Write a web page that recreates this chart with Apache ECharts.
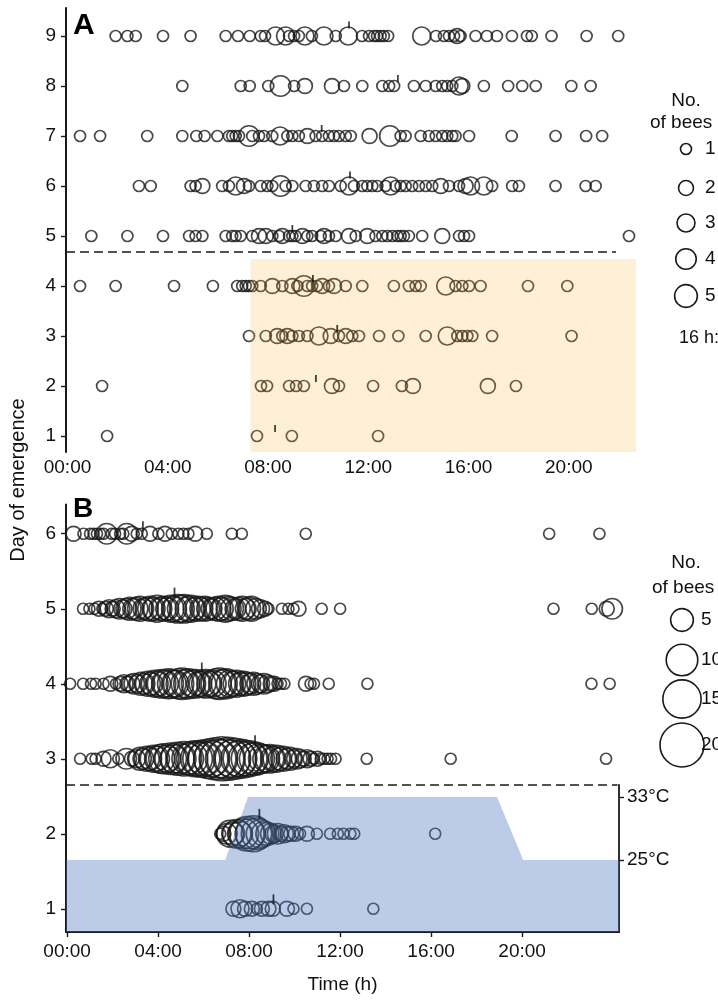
<!DOCTYPE html>
<html>
<head>
<meta charset="utf-8">
<script src="https://cdn.jsdelivr.net/npm/echarts@6/dist/echarts.min.js"></script>
<style>
  html, body { margin: 0; padding: 0; background: #fff; }
  #chart { width: 718px; height: 1000px; }
</style>
</head>
<body>
<div id="chart"></div>
<script>
// ---- Panel A: emergence under a 16 h:8 h light:dark cycle, [hour, bees] per day ----
const a_day9 = [[1.92,1],[2.39,1],[2.72,1],[3.81,1],[4.91,1],[6.31,1],[6.80,1],[7.27,1],[7.71,1],[7.88,1],[8.30,3],[8.70,3],[8.84,1],[9.04,1],[9.23,1],[9.47,3],[9.75,1],[10.23,3],[10.70,1],[11.20,3],[11.75,1],[12.03,1],[12.23,1],[12.35,1],[12.49,1],[12.62,1],[12.79,1],[14.13,3],[14.70,1],[15.02,1],[15.22,1],[15.42,1],[15.54,2],[15.68,1],[16.28,1],[16.73,1],[17.13,1],[17.73,1],[18.33,1],[18.52,1],[19.31,1],[20.71,1],[21.97,1]];
const a_day8 = [[4.58,1],[6.91,1],[7.27,1],[8.01,1],[8.50,4],[9.04,1],[9.47,2],[10.55,2],[11.03,1],[11.76,1],[12.56,1],[12.83,1],[13.03,1],[13.82,1],[14.29,1],[14.69,1],[14.95,1],[15.15,1],[15.35,1],[15.62,3],[15.75,2],[16.61,1],[17.58,1],[18.14,1],[18.68,1],[20.10,1],[20.87,1]];
const a_day7 = [[0.50,1],[1.30,1],[3.18,1],[4.58,1],[5.14,1],[5.47,1],[5.98,1],[6.44,1],[6.57,1],[6.71,1],[6.84,1],[7.24,4],[7.37,1],[7.64,1],[7.84,1],[8.17,1],[8.48,3],[8.77,1],[8.97,1],[9.23,1],[9.57,2],[9.90,1],[10.16,1],[10.43,1],[10.63,1],[10.83,1],[11.10,1],[11.30,1],[12.05,2],[12.86,4],[13.29,1],[13.49,1],[14.09,1],[14.42,1],[14.69,1],[14.95,1],[15.15,1],[15.35,1],[15.48,1],[16.02,1],[17.72,1],[19.47,1],[20.69,1],[21.33,1]];
const a_day6 = [[2.85,1],[3.32,1],[4.91,1],[5.11,1],[5.38,2],[6.17,1],[6.44,1],[6.71,3],[7.04,2],[7.24,1],[7.71,1],[7.97,1],[8.17,1],[8.50,4],[8.70,1],[8.97,1],[9.50,1],[9.83,1],[10.16,1],[10.43,1],[10.90,1],[11.23,3],[11.43,1],[11.76,1],[11.96,1],[12.16,1],[12.36,1],[12.69,1],[12.89,3],[13.09,1],[13.29,1],[13.49,1],[13.75,1],[14.02,1],[14.29,1],[14.55,1],[14.89,2],[15.22,1],[15.62,1],[15.88,2],[16.08,3],[16.61,3],[16.94,1],[17.74,1],[18.01,1],[19.47,1],[20.67,1],[21.07,1]];
const a_day5 = [[0.95,1],[2.39,1],[3.81,1],[4.85,1],[5.11,1],[5.38,1],[6.31,1],[6.57,1],[6.71,1],[6.91,1],[7.37,1],[7.64,2],[7.91,2],[8.17,1],[8.44,1],[8.57,2],[8.84,1],[8.97,1],[9.10,1],[9.37,2],[9.57,1],[9.76,1],[10.10,1],[10.23,2],[10.43,1],[10.70,1],[11.23,2],[11.50,1],[11.96,2],[12.29,1],[12.56,1],[12.76,1],[12.96,1],[13.16,1],[13.29,1],[13.42,1],[13.62,1],[14.15,1],[14.95,2],[15.62,1],[15.82,1],[16.02,1],[22.40,1]];
const a_day4 = [[0.50,1],[1.92,1],[4.25,1],[5.80,1],[6.77,1],[6.97,1],[7.11,1],[7.24,1],[7.37,1],[7.71,1],[8.17,2],[8.57,1],[8.97,2],[9.17,1],[9.43,4],[9.57,1],[9.76,1],[9.96,1],[10.16,2],[10.43,1],[10.63,2],[11.10,1],[11.76,1],[13.02,1],[13.62,1],[13.89,1],[14.09,1],[15.09,3],[15.48,1],[15.75,1],[16.02,1],[16.48,1],[18.37,1],[19.94,1]];
const a_day3 = [[7.24,1],[7.91,1],[8.37,2],[8.57,1],[8.77,2],[8.97,1],[9.23,1],[9.57,1],[10.03,3],[10.50,2],[10.83,1],[11.10,2],[11.36,1],[11.63,1],[12.43,1],[13.20,1],[14.29,1],[15.15,3],[15.55,1],[15.75,1],[15.95,1],[16.15,1],[16.94,1],[20.11,1]];
const a_day2 = [[1.38,1],[7.72,1],[7.96,1],[8.84,1],[9.12,1],[9.43,1],[10.55,2],[10.83,1],[12.19,1],[13.34,1],[13.78,2],[16.77,2],[17.89,1]];
const a_day1 = [[1.58,1],[7.56,1],[8.95,1],[12.39,1]];
// median emergence hour per day (A), day 1..9
const a_median = [8.28, 9.91, 10.76, 9.79, 8.97, 11.27, 10.14, 13.18, 11.23];

// ---- Panel B: emergence under a 25 °C / 33 °C thermocycle, [hour, bees] per day ----
const b_day6 = [[0.28,2],[0.72,1],[1.01,1],[1.16,1],[1.31,1],[1.45,1],[1.60,1],[1.74,4],[1.96,1],[2.11,1],[2.33,1],[2.47,1],[2.62,4],[2.84,2],[3.06,1],[3.28,1],[3.64,2],[4.01,1],[4.30,2],[4.60,1],[4.89,1],[5.11,1],[5.33,1],[5.63,2],[6.14,1],[7.24,1],[7.68,1],[10.49,1],[21.19,1],[23.40,1]];
const b_day5 = [[0.70,1],[0.98,1],[1.20,1],[1.40,2],[1.55,1],[1.70,2],[1.85,3],[2.00,2],[2.15,3],[2.30,4],[2.45,3],[2.60,4],[2.75,5],[2.90,4],[3.05,5],[3.20,6],[3.35,4],[3.50,5],[3.65,6],[3.80,5],[3.95,7],[4.10,5],[4.25,6],[4.40,5],[4.55,7],[4.70,6],[4.85,8],[5.00,7],[5.15,8],[5.30,6],[5.45,7],[5.60,5],[5.75,6],[5.90,5],[6.05,6],[6.20,5],[6.35,4],[6.50,5],[6.65,6],[6.80,5],[6.95,7],[7.10,6],[7.25,5],[7.40,4],[7.55,5],[7.70,6],[7.85,4],[8.00,5],[8.10,6],[8.30,4],[8.50,3],[8.70,2],[8.85,1],[9.44,1],[9.73,1],[9.95,1],[10.17,2],[11.19,1],[12.00,1],[21.38,1],[23.06,1],[23.72,2],[23.96,4]];
const b_day4 = [[0.13,1],[0.70,1],[1.05,1],[1.25,1],[1.60,1],[1.90,2],[2.15,1],[2.35,2],[2.50,3],[2.65,2],[2.80,3],[2.95,4],[3.10,3],[3.25,5],[3.40,4],[3.55,6],[3.70,5],[3.85,7],[4.00,6],[4.15,8],[4.30,7],[4.45,9],[4.60,8],[4.75,7],[4.90,9],[5.05,10],[5.20,8],[5.35,9],[5.50,7],[5.65,8],[5.80,6],[5.95,7],[6.10,8],[6.25,6],[6.40,7],[6.55,9],[6.70,10],[6.85,8],[7.00,9],[7.15,7],[7.30,6],[7.45,7],[7.60,5],[7.75,6],[7.90,5],[8.05,4],[8.20,5],[8.35,4],[8.50,3],[8.65,4],[8.80,3],[8.95,2],[9.10,2],[9.25,1],[9.40,1],[9.55,1],[10.50,2],[10.70,1],[10.85,1],[11.50,1],[13.20,1],[23.05,1],[23.85,1]];
const b_day3 = [[0.57,1],[1.08,1],[1.25,1],[1.60,2],[1.90,3],[2.25,1],[2.60,4],[2.85,2],[3.05,3],[3.20,5],[3.35,4],[3.50,6],[3.65,5],[3.80,7],[3.95,6],[4.10,8],[4.25,9],[4.40,7],[4.55,10],[4.70,8],[4.85,11],[5.00,9],[5.15,12],[5.30,10],[5.45,11],[5.60,13],[5.75,12],[5.90,14],[6.05,12],[6.20,16],[6.35,13],[6.50,18],[6.65,15],[6.80,20],[6.95,16],[7.10,19],[7.25,14],[7.40,17],[7.55,13],[7.70,15],[7.85,12],[8.00,13],[8.15,10],[8.30,11],[8.45,9],[8.60,8],[8.75,7],[8.90,8],[9.05,6],[9.20,7],[9.35,5],[9.50,6],[9.65,4],[9.80,5],[9.95,3],[10.10,4],[10.25,3],[10.40,2],[10.55,3],[10.70,2],[10.85,1],[11.00,2],[11.15,1],[11.30,1],[11.45,1],[11.60,1],[11.80,1],[13.17,1],[16.86,1],[23.69,1]];
const b_day2 = [[6.73,1],[6.87,2],[7.02,4],[7.16,7],[7.30,5],[7.46,8],[7.60,6],[7.75,9],[7.90,12],[8.05,9],[8.20,13],[8.35,10],[8.50,8],[8.65,6],[8.80,5],[8.95,4],[9.10,3],[9.25,4],[9.40,2],[9.55,3],[9.70,2],[9.85,2],[10.05,2],[10.24,1],[10.54,2],[10.98,1],[11.56,1],[11.90,1],[12.15,1],[12.45,1],[12.62,1],[16.18,1]];
const b_day1 = [[7.31,2],[7.60,3],[7.82,2],[8.12,2],[8.34,1],[8.56,2],[8.85,2],[9.04,2],[9.66,2],[9.95,1],[10.54,1],[13.46,1]];
// median emergence hour per day (B), day 1..6
const b_median = [9.07, 8.45, 8.26, 5.92, 4.72, 3.33];

// ---- axes, regimes, legends ----
const hourTicks = [0, 4, 8, 12, 16, 20];
const dayTicksA = [1, 2, 3, 4, 5, 6, 7, 8, 9];
const dayTicksB = [1, 2, 3, 4, 5, 6];
const photophaseA = [7.3, 22.7];      // lights-on hours of the 16 h:8 h regime
const photophaseTopDay = 4.54;        // shaded days 1–4
const regimeSplitA = 4.68;            // dashed separator between regimes (A)
const regimeSplitB = 2.65;            // dashed separator between regimes (B)
const tempHour = [-0.05, 6.95, 7.95, 18.9, 20.05, 24.26];
const tempC    = [25, 25, 33, 33, 25, 25];
const tempTicks = [25, 33];
const legendA = [1, 2, 3, 4, 5];
const legendB = [5, 10, 15, 20];

const INK = '#1a1a1a';
const FONT = '"Liberation Sans", Arial, sans-serif';
const sizeOf = n => 9.5 * Math.sqrt(n) + 1.5;

function toPoints(days) {
  const out = [];
  days.forEach((arr, i) => arr.forEach(([h, n]) => out.push([h, i + 1, n])));
  return out;
}
const daysA = [a_day1, a_day2, a_day3, a_day4, a_day5, a_day6, a_day7, a_day8, a_day9];
const daysB = [b_day1, b_day2, b_day3, b_day4, b_day5, b_day6];
const pointsA = toPoints(daysA);
const pointsB = toPoints(daysB);

// median marks sit on top of the largest circle near the median hour
function medianMarks(medians, days) {
  return medians.map((h, i) => {
    let r = 5.5;
    days[i].forEach(([t, n]) => { if (Math.abs(t - h) <= 0.25) r = Math.max(r, sizeOf(n) / 2); });
    return { value: [h, i + 1], symbolOffset: [0, -(r + 2)] };
  });
}
const medA = medianMarks(a_median, daysA);
const medB = medianMarks(b_median, daysB);

const hhmm = v => (v < 10 ? '0' : '') + v + ':00';

const chart = echarts.init(document.getElementById('chart'), null, { renderer: 'canvas' });

const circleStyle = { color: 'rgba(0,0,0,0)', borderColor: INK, borderWidth: 1.7 };

// size legend pieces
const legendGraphics = [];
function addLegend(values, cx, ys) {
  values.forEach((v, i) => {
    legendGraphics.push({
      type: 'circle', shape: { cx: cx, cy: ys[i], r: sizeOf(v) / 2 },
      style: { fill: 'none', stroke: INK, lineWidth: 1.6 }
    });
    legendGraphics.push({
      type: 'text', x: cx + 19, y: ys[i],
      style: { text: String(v), font: '19px ' + FONT, fill: '#111', verticalAlign: 'middle', align: 'left' }
    });
  });
}
addLegend(legendA, 686, [149, 188, 223, 259, 296]);
addLegend(legendB, 682, [620, 660, 699, 745]);

const tickLabel = { fontSize: 19, fontFamily: FONT, color: '#111' };

chart.setOption({
  animation: false,
  backgroundColor: '#fff',
  grid: [
    { left: 66, top: 8, width: 570, height: 444 },
    { left: 66, top: 504.5, width: 553, height: 427.5 },
    { left: 66, top: 785, width: 553, height: 147 }
  ],
  xAxis: [
    {
      gridIndex: 0, type: 'value', min: -0.06, max: 22.68,
      axisLine: { show: false, onZero: false },
      axisTick: { show: false },
      splitLine: { show: false },
      axisLabel: Object.assign({ customValues: hourTicks, formatter: hhmm, margin: 6 }, tickLabel)
    },
    {
      gridIndex: 1, type: 'value', min: -0.05, max: 24.26,
      name: 'Time (h)', nameLocation: 'middle', nameGap: 43,
      nameTextStyle: { fontSize: 19, fontFamily: FONT, color: '#111' },
      axisLine: { show: true, onZero: false, lineStyle: { color: INK, width: 1.8 } },
      axisTick: { show: true, customValues: hourTicks, length: 5, lineStyle: { color: INK, width: 1.4 } },
      splitLine: { show: false },
      axisLabel: Object.assign({ customValues: hourTicks, formatter: hhmm, margin: 10 }, tickLabel)
    },
    { gridIndex: 2, type: 'value', min: -0.05, max: 24.26, show: false }
  ],
  yAxis: [
    {
      gridIndex: 0, type: 'value', min: 0.68, max: 9.56,
      axisLine: { show: true, onZero: false, lineStyle: { color: INK, width: 2 } },
      axisTick: { show: true, customValues: dayTicksA, length: 5, lineStyle: { color: INK, width: 1.4 } },
      splitLine: { show: false },
      axisLabel: Object.assign({ customValues: dayTicksA, margin: 10 }, tickLabel)
    },
    {
      gridIndex: 1, type: 'value', min: 0.69, max: 6.39,
      axisLine: { show: true, onZero: false, lineStyle: { color: INK, width: 2 } },
      axisTick: { show: true, customValues: dayTicksB, length: 5, lineStyle: { color: INK, width: 1.4 } },
      splitLine: { show: false },
      axisLabel: Object.assign({ customValues: dayTicksB, margin: 10 }, tickLabel)
    },
    {
      gridIndex: 2, type: 'value', position: 'right', min: 15.86, max: 34.52,
      axisLine: { show: true, onZero: false, lineStyle: { color: INK, width: 1.8 } },
      axisTick: { show: true, customValues: tempTicks, length: 5, lineStyle: { color: INK, width: 1.4 } },
      splitLine: { show: false },
      axisLabel: Object.assign({ customValues: tempTicks, formatter: v => v + '°C', margin: 8 }, tickLabel)
    }
  ],
  series: [
    {
      name: 'emergence A', type: 'scatter', xAxisIndex: 0, yAxisIndex: 0, z: 2,
      data: pointsA, symbol: 'circle', symbolSize: v => sizeOf(v[2]), itemStyle: circleStyle
    },
    {
      name: 'emergence B', type: 'scatter', xAxisIndex: 1, yAxisIndex: 1, z: 2,
      data: pointsB, symbol: 'circle', symbolSize: v => sizeOf(v[2]), itemStyle: circleStyle
    },
    {
      name: 'median A', type: 'scatter', xAxisIndex: 0, yAxisIndex: 0, z: 4,
      data: medA, symbol: 'rect', symbolSize: [1.8, 7], itemStyle: { color: '#111' }
    },
    {
      name: 'median B', type: 'scatter', xAxisIndex: 1, yAxisIndex: 1, z: 4,
      data: medB, symbol: 'rect', symbolSize: [1.8, 10], itemStyle: { color: '#111' }
    },
    {
      name: 'photophase', type: 'line', xAxisIndex: 0, yAxisIndex: 0, z: 3,
      data: photophaseA.map(h => [h, photophaseTopDay]), symbol: 'none',
      lineStyle: { width: 0 },
      areaStyle: { origin: 'start', color: 'rgba(245,182,55,0.2)', opacity: 1 }
    },
    {
      name: 'thermophase', type: 'line', xAxisIndex: 2, yAxisIndex: 2, z: 3,
      data: tempHour.map((h, i) => [h, tempC[i]]), symbol: 'none',
      lineStyle: { width: 0 },
      areaStyle: { origin: 'start', color: 'rgba(77,117,194,0.376)', opacity: 1 }
    },
    {
      name: 'split A', type: 'line', xAxisIndex: 0, yAxisIndex: 0, z: 3,
      data: [[-0.06, regimeSplitA], [21.88, regimeSplitA]], symbol: 'none',
      lineStyle: { color: INK, width: 1.6, type: [9, 5] }
    },
    {
      name: 'split B', type: 'line', xAxisIndex: 1, yAxisIndex: 1, z: 3,
      data: [[-0.05, regimeSplitB], [24.2, regimeSplitB]], symbol: 'none',
      lineStyle: { color: INK, width: 1.6, type: [9, 5] }
    }
  ],
  graphic: [
    { type: 'text', x: 73, y: 11, style: { text: 'A', font: 'bold 30px ' + FONT, fill: '#000' } },
    { type: 'text', x: 73, y: 495, style: { text: 'B', font: 'bold 28px ' + FONT, fill: '#000' } },
    {
      type: 'text', x: 18, y: 480, rotation: Math.PI / 2,
      style: { text: 'Day of emergence', font: '20px ' + FONT, fill: '#111', align: 'center', verticalAlign: 'middle' }
    },
    { type: 'text', x: 686, y: 101, style: { text: 'No.', font: '19px ' + FONT, fill: '#111', align: 'center', verticalAlign: 'middle' } },
    { type: 'text', x: 650, y: 123, style: { text: 'of bees', font: '19px ' + FONT, fill: '#111', align: 'left', verticalAlign: 'middle' } },
    { type: 'text', x: 679, y: 338, style: { text: '16 h:8 h', font: '18px ' + FONT, fill: '#111', align: 'left', verticalAlign: 'middle' } },
    { type: 'text', x: 686, y: 563, style: { text: 'No.', font: '19px ' + FONT, fill: '#111', align: 'center', verticalAlign: 'middle' } },
    { type: 'text', x: 652, y: 588, style: { text: 'of bees', font: '19px ' + FONT, fill: '#111', align: 'left', verticalAlign: 'middle' } }
  ].concat(legendGraphics)
});
</script>
</body>
</html>
